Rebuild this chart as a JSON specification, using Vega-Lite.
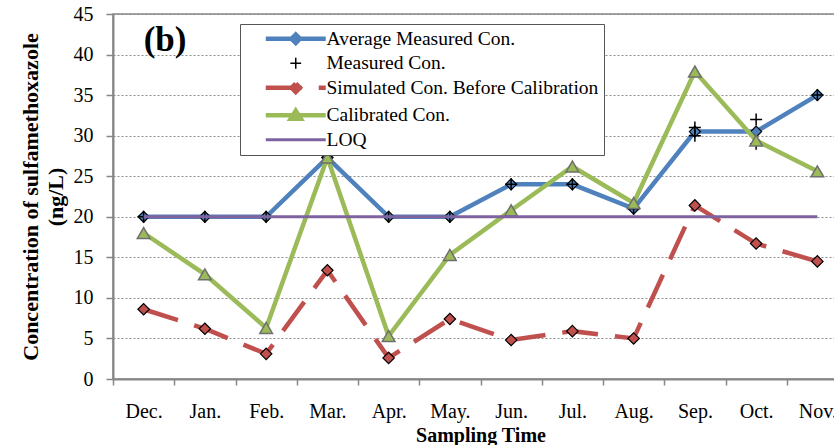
{
  "$schema": "https://vega.github.io/schema/vega-lite/v6.json",
  "width": 735,
  "height": 365,
  "padding": {"left": 19, "top": 4, "right": 0, "bottom": 0},
  "background": "white",
  "data": {
    "values": [
      {"month": "Dec.", "series": "Average Measured Con.", "value": 20},
      {"month": "Jan.", "series": "Average Measured Con.", "value": 20},
      {"month": "Feb.", "series": "Average Measured Con.", "value": 20},
      {"month": "Mar.", "series": "Average Measured Con.", "value": 27.3},
      {"month": "Apr.", "series": "Average Measured Con.", "value": 20},
      {"month": "May.", "series": "Average Measured Con.", "value": 20},
      {"month": "Jun.", "series": "Average Measured Con.", "value": 24},
      {"month": "Jul.", "series": "Average Measured Con.", "value": 24},
      {"month": "Aug.", "series": "Average Measured Con.", "value": 21},
      {"month": "Sep.", "series": "Average Measured Con.", "value": 30.5},
      {"month": "Oct.", "series": "Average Measured Con.", "value": 30.5},
      {"month": "Nov.", "series": "Average Measured Con.", "value": 35},

      {"month": "Dec.", "series": "Measured Con.", "value": 20},
      {"month": "Jan.", "series": "Measured Con.", "value": 20},
      {"month": "Feb.", "series": "Measured Con.", "value": 20},
      {"month": "Mar.", "series": "Measured Con.", "value": 27.3},
      {"month": "Apr.", "series": "Measured Con.", "value": 20},
      {"month": "May.", "series": "Measured Con.", "value": 20},
      {"month": "Jun.", "series": "Measured Con.", "value": 24},
      {"month": "Jul.", "series": "Measured Con.", "value": 24},
      {"month": "Aug.", "series": "Measured Con.", "value": 21},
      {"month": "Sep.", "series": "Measured Con.", "value": 31},
      {"month": "Sep.", "series": "Measured Con.", "value": 30},
      {"month": "Oct.", "series": "Measured Con.", "value": 32},
      {"month": "Oct.", "series": "Measured Con.", "value": 29},
      {"month": "Nov.", "series": "Measured Con.", "value": 35},

      {"month": "Dec.", "series": "Simulated Con. Before Calibration", "value": 8.6},
      {"month": "Jan.", "series": "Simulated Con. Before Calibration", "value": 6.2},
      {"month": "Feb.", "series": "Simulated Con. Before Calibration", "value": 3.1},
      {"month": "Mar.", "series": "Simulated Con. Before Calibration", "value": 13.4},
      {"month": "Apr.", "series": "Simulated Con. Before Calibration", "value": 2.6},
      {"month": "May.", "series": "Simulated Con. Before Calibration", "value": 7.4},
      {"month": "Jun.", "series": "Simulated Con. Before Calibration", "value": 4.8},
      {"month": "Jul.", "series": "Simulated Con. Before Calibration", "value": 5.9},
      {"month": "Aug.", "series": "Simulated Con. Before Calibration", "value": 5.0},
      {"month": "Sep.", "series": "Simulated Con. Before Calibration", "value": 21.4},
      {"month": "Oct.", "series": "Simulated Con. Before Calibration", "value": 16.7},
      {"month": "Nov.", "series": "Simulated Con. Before Calibration", "value": 14.5},

      {"month": "Dec.", "series": "Calibrated Con.", "value": 18.0},
      {"month": "Jan.", "series": "Calibrated Con.", "value": 12.9},
      {"month": "Feb.", "series": "Calibrated Con.", "value": 6.3},
      {"month": "Mar.", "series": "Calibrated Con.", "value": 27.3},
      {"month": "Apr.", "series": "Calibrated Con.", "value": 5.3},
      {"month": "May.", "series": "Calibrated Con.", "value": 15.3},
      {"month": "Jun.", "series": "Calibrated Con.", "value": 20.8},
      {"month": "Jul.", "series": "Calibrated Con.", "value": 26.2},
      {"month": "Aug.", "series": "Calibrated Con.", "value": 21.7},
      {"month": "Sep.", "series": "Calibrated Con.", "value": 37.9},
      {"month": "Oct.", "series": "Calibrated Con.", "value": 29.4},
      {"month": "Nov.", "series": "Calibrated Con.", "value": 25.6},

      {"month": "Dec.", "series": "LOQ", "value": 20},
      {"month": "Jan.", "series": "LOQ", "value": 20},
      {"month": "Feb.", "series": "LOQ", "value": 20},
      {"month": "Mar.", "series": "LOQ", "value": 20},
      {"month": "Apr.", "series": "LOQ", "value": 20},
      {"month": "May.", "series": "LOQ", "value": 20},
      {"month": "Jun.", "series": "LOQ", "value": 20},
      {"month": "Jul.", "series": "LOQ", "value": 20},
      {"month": "Aug.", "series": "LOQ", "value": 20},
      {"month": "Sep.", "series": "LOQ", "value": 20},
      {"month": "Oct.", "series": "LOQ", "value": 20},
      {"month": "Nov.", "series": "LOQ", "value": 20}
    ]
  },
  "encoding": {
    "x": {
      "field": "month",
      "type": "ordinal",
      "title": "Sampling Time",
      "scale": {
        "type": "band",
        "paddingInner": 0,
        "paddingOuter": 0,
        "domain": ["Dec.", "Jan.", "Feb.", "Mar.", "Apr.", "May.", "Jun.", "Jul.", "Aug.", "Sep.", "Oct.", "Nov."]
      },
      "axis": {
        "labelAngle": 0,
        "tickBand": "extent",
        "labelFontSize": 20,
        "labelPadding": 16,
        "titlePadding": 4,
        "grid": false
      }
    },
    "y": {
      "field": "value",
      "type": "quantitative",
      "title": ["Concentration of sulfamethoxazole", "(ng/L)"],
      "scale": {"domain": [0, 45], "nice": false, "zero": true},
      "axis": {
        "values": [0, 5, 10, 15, 20, 25, 30, 35, 40, 45],
        "grid": true,
        "gridDash": [2, 2],
        "gridColor": "#8c8c8c",
        "gridWidth": 1,
        "labelFontSize": 20,
        "labelPadding": 13,
        "tickSize": 7,
        "titleFontSize": 22,
        "titleLineHeight": 25,
        "titlePadding": 6
      }
    }
  },
  "layer": [
    {
      "transform": [{"filter": "datum.series === 'Average Measured Con.'"}],
      "mark": {"type": "line", "strokeWidth": 4.5, "strokeJoin": "miter"},
      "encoding": {
        "color": {
          "field": "series",
          "type": "nominal",
          "scale": {
            "domain": ["Average Measured Con.", "Measured Con.", "Simulated Con. Before Calibration", "Calibrated Con.", "LOQ"],
            "range": ["#4F81BD", "#000000", "#C0504D", "#9BBB59", "#7F63A0"]
          },
          "legend": {
            "orient": "none",
            "legendX": 127,
            "legendY": 10,
            "title": null,
            "padding": 5,
            "strokeColor": "#555555",
            "fillColor": "white",
            "labelFont": "Liberation Serif",
            "labelFontSize": 19.5,
            "labelColor": "black",
            "labelLimit": 0,
            "symbolSize": 144,
            "symbolOffset": 41,
            "labelOffset": 21,
            "rowPadding": 0.5,
            "encode": {
              "symbols": {
                "update": {
                  "shape": {"signal": "datum.value === 'Average Measured Con.' || datum.value === 'Simulated Con. Before Calibration' ? 'M-5,0H5M0,-0.7L0.7,0L0,0.7L-0.7,0Z' : datum.value === 'Measured Con.' ? 'M-0.9,0H0.9M0,-0.9V0.9' : datum.value === 'Calibrated Con.' ? 'M-5,0H5M0,-0.75L0.85,0.6L-0.85,0.6Z' : 'M-5,0H5'"},
                  "fill": {"scale": "color", "field": "value"},
                  "stroke": {"scale": "color", "field": "value"},
                  "strokeWidth": {"signal": "datum.value === 'Measured Con.' ? 1.5 : datum.value === 'LOQ' ? 3 : 4.5"},
                  "strokeDash": {"signal": "datum.value === 'Simulated Con. Before Calibration' ? [36, 17] : [1, 0]"},
                  "opacity": {"value": 1}
                }
              }
            }
          }
        }
      }
    },
    {
      "transform": [{"filter": "datum.series === 'Average Measured Con.'"}],
      "mark": {"type": "point", "shape": "diamond", "size": 121, "filled": true, "fill": "#4F81BD", "stroke": "black", "strokeWidth": 1.2, "opacity": 1}
    },
    {
      "transform": [{"filter": "datum.series === 'Measured Con.'"}],
      "mark": {"type": "point", "shape": "M-1,0H1M0,-1V1", "size": 144, "filled": false, "stroke": "black", "strokeWidth": 1.5, "opacity": 1}
    },
    {
      "transform": [{"filter": "datum.series === 'Simulated Con. Before Calibration'"}],
      "mark": {"type": "line", "strokeWidth": 4.5, "strokeDash": [36, 17]},
      "encoding": {"color": {"field": "series", "type": "nominal"}}
    },
    {
      "transform": [{"filter": "datum.series === 'Simulated Con. Before Calibration'"}],
      "mark": {"type": "point", "shape": "diamond", "size": 130, "filled": true, "fill": "#C0504D", "stroke": "black", "strokeWidth": 1.2, "opacity": 1}
    },
    {
      "transform": [{"filter": "datum.series === 'Calibrated Con.'"}],
      "mark": {"type": "line", "strokeWidth": 4.5},
      "encoding": {"color": {"field": "series", "type": "nominal"}}
    },
    {
      "transform": [{"filter": "datum.series === 'Calibrated Con.'"}],
      "mark": {"type": "point", "shape": "triangle-up", "size": 160, "filled": true, "fill": "#9BBB59", "stroke": "#6F6F6F", "strokeWidth": 1.5, "opacity": 1}
    },
    {
      "transform": [{"filter": "datum.series === 'LOQ'"}],
      "mark": {"type": "line", "strokeWidth": 3},
      "encoding": {"color": {"field": "series", "type": "nominal"}}
    },
    {
      "transform": [{"filter": "datum.series === 'LOQ' && datum.month === 'Dec.'"}],
      "mark": {"type": "text", "align": "left", "baseline": "alphabetic", "font": "Liberation Serif", "fontSize": 35, "fontWeight": "bold", "fill": "black", "opacity": 1},
      "encoding": {
        "y": {"datum": 40.4},
        "text": {"value": "(b)"}
      }
    }
  ],
  "config": {
    "font": "Liberation Serif",
    "view": {"stroke": "#868686", "strokeWidth": 1.5},
    "axis": {
      "domainColor": "#868686",
      "domainWidth": 2,
      "tickColor": "#868686",
      "tickWidth": 1.5,
      "tickSize": 6,
      "labelFont": "Liberation Serif",
      "labelColor": "black",
      "titleFont": "Liberation Serif",
      "titleFontSize": 20,
      "titleFontWeight": "bold",
      "titleColor": "black"
    }
  }
}
